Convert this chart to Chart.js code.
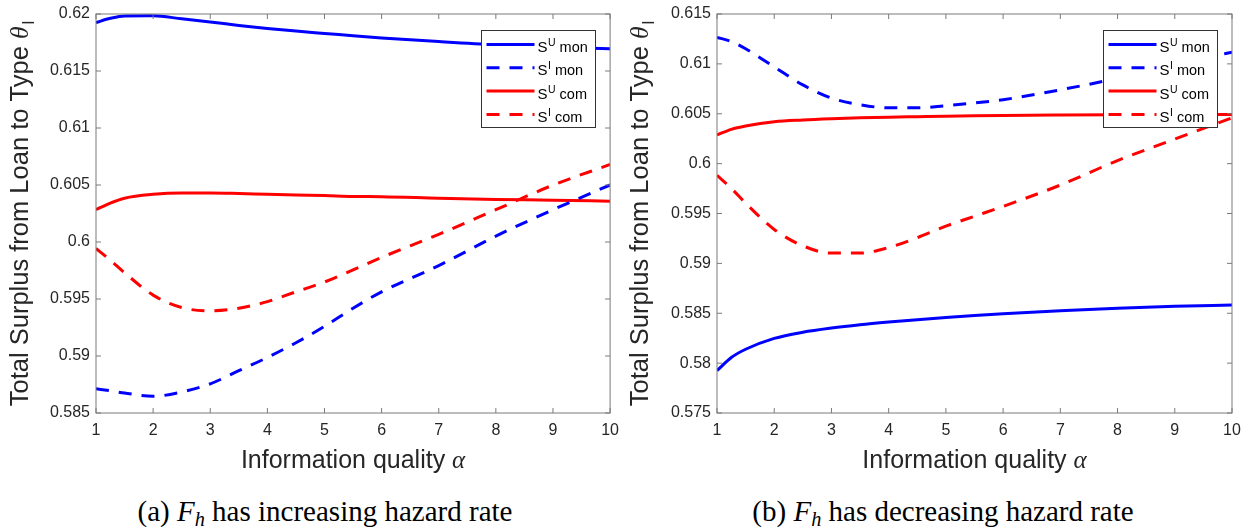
<!DOCTYPE html>
<html>
<head>
<meta charset="utf-8">
<script src="https://cdn.jsdelivr.net/npm/chart.js@4.4.0/dist/chart.umd.min.js"></script>
<style>
  body { margin: 0; background: #fff; width: 1256px; height: 527px; overflow: hidden; position: relative; }
  canvas { position: absolute; top: 0; }
  #chartA { left: 0; }
  #chartB { left: 627px; }
  .cap { position: absolute; top: 497px; font-family: "Liberation Serif", serif; font-size: 29px; line-height: 29px;
         white-space: nowrap; transform: translateX(-50%); color: #000; }
  .cap sub { font-size: 70%; line-height: 0; vertical-align: -0.25em; }
</style>
</head>
<body>
<canvas id="chartA" width="627" height="480"></canvas>
<canvas id="chartB" width="629" height="480"></canvas>
<div class="cap" style="left:325px">(a) <i>F</i><sub><i>h</i></sub> has increasing hazard rate</div>
<div class="cap" style="left:943px">(b) <i>F</i><sub><i>h</i></sub> has decreasing hazard rate</div>
<script>
// information quality values
var alpha = [1, 1.25, 1.5, 2, 2.5, 3, 3.5, 4, 4.5, 5, 5.5, 6, 7, 8, 9, 10];
var xTicks = [1, 2, 3, 4, 5, 6, 7, 8, 9, 10];

// (a) increasing hazard rate
var sUmonA = [0.61925, 0.61962, 0.61983, 0.61984, 0.61958, 0.6193, 0.619, 0.61873, 0.6185, 0.6183, 0.6181, 0.6179, 0.61758, 0.6173, 0.61712, 0.61695];
var sImonA = [0.58713, 0.58695, 0.58675, 0.58647, 0.58684, 0.58756, 0.58871, 0.58987, 0.59116, 0.5926, 0.59419, 0.59563, 0.59793, 0.60052, 0.60283, 0.605];
var sUcomA = [0.60283, 0.60341, 0.60384, 0.60418, 0.6043, 0.6043, 0.60425, 0.60418, 0.60412, 0.60407, 0.604, 0.60398, 0.60384, 0.60373, 0.60367, 0.60358];
var sIcomA = [0.59943, 0.5984, 0.5973, 0.59534, 0.59425, 0.59396, 0.59419, 0.59477, 0.59563, 0.59649, 0.59755, 0.59865, 0.60067, 0.60283, 0.60499, 0.6068];
var yTicksA = [0.585, 0.59, 0.595, 0.6, 0.605, 0.61, 0.615, 0.62];

// (b) decreasing hazard rate
var sUmonB = [0.57925, 0.58056, 0.58139, 0.58248, 0.5831, 0.58352, 0.58385, 0.58412, 0.58436, 0.58458, 0.58477, 0.58494, 0.58524, 0.5855, 0.5857, 0.58583];
var sImonB = [0.61266, 0.61223, 0.61151, 0.6097, 0.60789, 0.60657, 0.60591, 0.60559, 0.60559, 0.60581, 0.60608, 0.60641, 0.6074, 0.60855, 0.60986, 0.61118];
var sUcomB = [0.60288, 0.60344, 0.60377, 0.6042, 0.60438, 0.6045, 0.60459, 0.60466, 0.60471, 0.60476, 0.6048, 0.60483, 0.60487, 0.6049, 0.60492, 0.60493];
var sIcomB = [0.59883, 0.59752, 0.59604, 0.5934, 0.59176, 0.59103, 0.59103, 0.59159, 0.59258, 0.59373, 0.59472, 0.59571, 0.59785, 0.60031, 0.60246, 0.6046];
var yTicksB = [0.575, 0.58, 0.585, 0.59, 0.595, 0.6, 0.605, 0.61, 0.615];

var seriesSup = ['U', 'I', 'U', 'I'];
var seriesSub = [' mon', ' mon', ' com', ' com'];
var colors = ['#0000ff', '#0000ff', '#ff0000', '#ff0000'];
var dashed = [false, true, false, true];

// box, inward ticks, legend and axis titles in the matlab look
var frame = {
  id: 'frame',
  afterDatasetsDraw: function (chart, args, opts) {
    var ctx = chart.ctx, a = chart.chartArea, xs = chart.scales.x, ys = chart.scales.y;
    ctx.save();
    ctx.strokeStyle = '#7a7a7a';
    ctx.lineWidth = 1;
    ctx.strokeRect(a.left, a.top, a.right - a.left, a.bottom - a.top);
    ctx.beginPath();
    xTicks.forEach(function (v) {
      var px = xs.getPixelForValue(v);
      ctx.moveTo(px, a.bottom); ctx.lineTo(px, a.bottom - 5);
      ctx.moveTo(px, a.top); ctx.lineTo(px, a.top + 5);
    });
    opts.yTicks.forEach(function (v) {
      var py = ys.getPixelForValue(v);
      ctx.moveTo(a.left, py); ctx.lineTo(a.left + 5, py);
      ctx.moveTo(a.right, py); ctx.lineTo(a.right - 5, py);
    });
    ctx.stroke();

    // legend
    var lw = 114, lh = 97;
    var bx = Math.round(a.right - 15 - lw) + 0.5, by = Math.round(a.top + 16) + 0.5;
    ctx.fillStyle = '#fff';
    ctx.fillRect(bx, by, lw, lh);
    ctx.strokeStyle = '#333';
    ctx.strokeRect(bx, by, lw, lh);
    chart.data.datasets.forEach(function (d, i) {
      var yy = by + 14 + i * 23.3;
      ctx.setLineDash(d.borderDash);
      ctx.strokeStyle = d.borderColor;
      ctx.lineWidth = 3;
      ctx.beginPath(); ctx.moveTo(bx + 5, yy); ctx.lineTo(bx + 53, yy); ctx.stroke();
      ctx.setLineDash([]);
      ctx.fillStyle = '#000';
      ctx.textBaseline = 'alphabetic';
      ctx.textAlign = 'left';
      var tx = bx + 56;
      ctx.font = '15px "Liberation Sans"';
      ctx.fillText('S', tx, yy + 7.5);
      tx += ctx.measureText('S').width + 0.5;
      ctx.font = '10.5px "Liberation Sans"';
      ctx.fillText(seriesSup[i], tx, yy + 1.5);
      tx += ctx.measureText(seriesSup[i]).width;
      ctx.font = '14.5px "Liberation Sans"';
      ctx.fillText(seriesSub[i], tx, yy + 7.5);
    });

    // x title
    ctx.fillStyle = '#262626';
    var t1 = 'Information quality ';
    ctx.font = '25px "Liberation Sans"';
    var w1 = ctx.measureText(t1).width;
    ctx.font = 'italic 25px "Liberation Serif"';
    var w2 = ctx.measureText('\u03b1').width;
    var x0 = (a.left + a.right) / 2 - (w1 + w2) / 2;
    ctx.font = '25px "Liberation Sans"';
    ctx.fillText(t1, x0, 468);
    ctx.font = 'italic 25px "Liberation Serif"';
    ctx.fillText('\u03b1', x0 + w1, 468);

    // y title, rotated
    var s1 = 'Total Surplus from Loan to Type ';
    ctx.font = '25.5px "Liberation Sans"';
    var v1 = ctx.measureText(s1).width;
    ctx.font = 'italic 25.5px "Liberation Serif"';
    var v2 = ctx.measureText('\u03b8').width;
    ctx.font = '17px "Liberation Sans"';
    var v3 = ctx.measureText('l').width;
    ctx.translate(opts.titleX, (a.top + a.bottom) / 2);
    ctx.rotate(-Math.PI / 2);
    var s0 = -(v1 + v2 + v3 + 2) / 2;
    ctx.font = '25.5px "Liberation Sans"';
    ctx.fillText(s1, s0, 0);
    ctx.font = 'italic 25.5px "Liberation Serif"';
    ctx.fillText('\u03b8', s0 + v1, 0);
    ctx.font = '17px "Liberation Sans"';
    ctx.fillText('l', s0 + v1 + v2 + 2, 6);
    ctx.restore();
  }
};

function makeChart(id, series, yTicks, padL, padR, titleX) {
  return new Chart(document.getElementById(id), {
    type: 'line',
    data: {
      datasets: series.map(function (vals, i) {
        return {
          label: 'S' + seriesSup[i] + seriesSub[i],
          data: alpha.map(function (a, j) { return { x: a, y: vals[j] }; }),
          borderColor: colors[i],
          borderWidth: 3,
          borderDash: dashed[i] ? [13, 10] : [],
          pointRadius: 0,
          cubicInterpolationMode: 'monotone',
          fill: false
        };
      })
    },
    options: {
      responsive: false,
      animation: false,
      events: [],
      layout: { padding: { left: padL, right: padR, top: 8, bottom: 37 } },
      plugins: {
        legend: { display: false },
        tooltip: { enabled: false },
        frame: { yTicks: yTicks, titleX: titleX }
      },
      scales: {
        x: {
          type: 'linear', min: 1, max: 10,
          afterBuildTicks: function (s) { s.ticks = xTicks.map(function (v) { return { value: v }; }); },
          afterFit: function (s) { s.height = 30; },
          grid: { display: false, drawTicks: false },
          border: { display: false },
          ticks: { padding: 8, maxRotation: 0, color: '#262626', font: { family: 'Liberation Sans', size: 16 } }
        },
        y: {
          type: 'linear', min: yTicks[0], max: yTicks[yTicks.length - 1],
          afterBuildTicks: function (s) { s.ticks = yTicks.map(function (v) { return { value: v }; }); },
          afterFit: function (s) { s.width = 62; },
          grid: { display: false, drawTicks: false },
          border: { display: false },
          ticks: {
            padding: 6, color: '#262626', font: { family: 'Liberation Sans', size: 16, lineHeight: 1 },
            callback: function (v) { return String(+Number(v).toFixed(3)); }
          }
        }
      }
    },
    plugins: [frame]
  });
}

makeChart('chartA', [sUmonA, sImonA, sUcomA, sIcomA], yTicksA, 34, 10, 28);
makeChart('chartB', [sUmonB, sImonB, sUcomB, sIcomB], yTicksB, 28, 24, 21);
</script>
</body>
</html>
